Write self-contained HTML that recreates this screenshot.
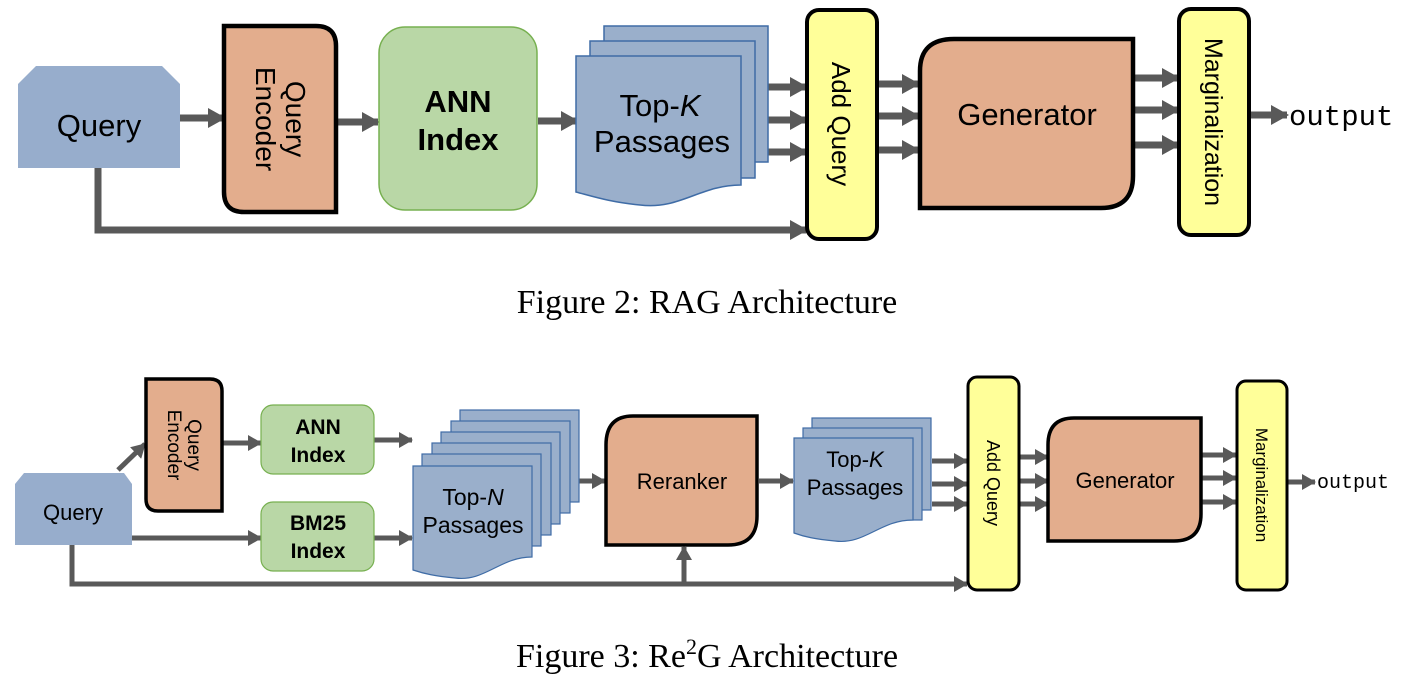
<!DOCTYPE html>
<html><head><meta charset="utf-8"><style>
html,body{margin:0;padding:0;background:#fff;}
svg{display:block;}
text{font-family:"Liberation Sans",Arial,sans-serif;fill:#000;}
.mono{font-family:"Liberation Mono","DejaVu Sans Mono",monospace;}
.serif{font-family:"Liberation Serif","Times New Roman",serif;}
</style></head><body>
<svg width="1416" height="694" viewBox="0 0 1416 694" xmlns="http://www.w3.org/2000/svg">
<defs>
<marker id="ah" markerUnits="userSpaceOnUse" markerWidth="18" markerHeight="20" refX="16" refY="10" orient="auto">
<path d="M0,0 L18,10 L0,20 z" fill="#595959"/></marker>
<marker id="as" markerUnits="userSpaceOnUse" markerWidth="14" markerHeight="16" refX="13" refY="8" orient="auto">
<path d="M0,0 L14,8 L0,16 z" fill="#595959"/></marker>
</defs>
<g stroke="#595959" fill="none">
<g stroke-width="7" marker-end="url(#ah)">
<line x1="180" y1="118" x2="224" y2="118"/>
<line x1="337" y1="122" x2="378" y2="122"/>
<line x1="538" y1="121" x2="577" y2="121"/>
<line x1="767" y1="87" x2="806" y2="87"/>
<line x1="767" y1="120" x2="806" y2="120"/>
<line x1="767" y1="152" x2="806" y2="152"/>
<line x1="878" y1="84" x2="918" y2="84"/>
<line x1="878" y1="116" x2="918" y2="116"/>
<line x1="878" y1="150" x2="918" y2="150"/>
<line x1="1134" y1="78" x2="1178" y2="78"/>
<line x1="1134" y1="110" x2="1178" y2="110"/>
<line x1="1134" y1="145" x2="1178" y2="145"/>
<line x1="1250" y1="115" x2="1287" y2="115"/>
<polyline points="98,168 98,230 806,230"/>
</g>
<g stroke-width="5" marker-end="url(#as)">
<line x1="118" y1="470" x2="145" y2="444"/>
<line x1="222" y1="443" x2="261" y2="443"/>
<line x1="374" y1="440" x2="412" y2="440"/>
<line x1="132" y1="538" x2="261" y2="538"/>
<line x1="374" y1="538" x2="412" y2="538"/>
<line x1="571" y1="481" x2="605" y2="481"/>
<line x1="759" y1="481" x2="793" y2="481"/>
<line x1="932" y1="461" x2="967" y2="461"/>
<line x1="932" y1="484" x2="967" y2="484"/>
<line x1="932" y1="504" x2="967" y2="504"/>
<line x1="1020" y1="457" x2="1048" y2="457"/>
<line x1="1020" y1="481" x2="1048" y2="481"/>
<line x1="1020" y1="504" x2="1048" y2="504"/>
<line x1="1202" y1="455" x2="1236" y2="455"/>
<line x1="1202" y1="478" x2="1236" y2="478"/>
<line x1="1202" y1="502" x2="1236" y2="502"/>
<line x1="1288" y1="482" x2="1315" y2="482"/>
<polyline points="72,545 72,584 967,584"/>
<line x1="684" y1="584" x2="684" y2="547"/>
</g>
</g>

<polygon points="36,66 162,66 180,84 180,168 18,168 18,84" fill="#97adcc"/>
<text x="99" y="136" font-size="31" text-anchor="middle">Query</text>

<path d="M224,26 H316 Q336,26 336,46 V212 H244 Q224,212 224,192 Z" fill="#e3ad8d" stroke="#000" stroke-width="4.5"/>
<g transform="translate(280,119) rotate(90)"><text x="0" y="-6" font-size="28" text-anchor="middle">Query</text><text x="0" y="24" font-size="28" text-anchor="middle">Encoder</text></g>

<rect x="379" y="27" width="158" height="183" rx="26" fill="#b9d7a6" stroke="#77b050" stroke-width="1.5"/>
<text x="458" y="112" font-size="31" font-weight="bold" text-anchor="middle">ANN</text>
<text x="458" y="150" font-size="31" font-weight="bold" text-anchor="middle">Index</text>

<g fill="#9aafcb" stroke="#3f6ca6" stroke-width="1.5">
<path d="M604,26 H768 V162 H604 Z"/>
<path d="M590,41 H755 V178 H590 Z"/>
<path d="M576,56 H741 V185 C700,185 680,210 640,205 C610,202 595,197 576,192 Z"/>
</g>
<text x="660" y="116" font-size="31" text-anchor="middle">Top-<tspan font-style="italic">K</tspan></text>
<text x="662" y="152" font-size="31" text-anchor="middle">Passages</text>

<rect x="807" y="10" width="70" height="229" rx="12" fill="#ffff99" stroke="#000" stroke-width="4"/>
<text transform="translate(832,124) rotate(90)" font-size="26" text-anchor="middle">Add Query</text>

<path d="M954,39 H1133 V176 Q1133,208 1101,208 H920 V71 Q920,39 954,39 Z" fill="#e3ad8d" stroke="#000" stroke-width="4.5"/>
<text x="1027" y="125" font-size="31" text-anchor="middle">Generator</text>

<rect x="1179" y="9" width="70" height="226" rx="12" fill="#ffff99" stroke="#000" stroke-width="4"/>
<text transform="translate(1205,122) rotate(90)" font-size="25" text-anchor="middle">Marginalization</text>
<text x="1289" y="125" font-size="29" class="mono">output</text>

<text x="707" y="313" font-size="34" class="serif" text-anchor="middle">Figure 2: RAG Architecture</text>

<polygon points="24,473 124,473 132,484 132,545 15,545 15,484" fill="#97adcc"/>
<text x="73" y="520" font-size="22" text-anchor="middle">Query</text>

<path d="M146,379 H210 Q222,379 222,391 V511 H158 Q146,511 146,499 Z" fill="#e3ad8d" stroke="#000" stroke-width="3.5"/>
<g transform="translate(184,445) rotate(90)"><text x="0" y="-4" font-size="19" text-anchor="middle">Query</text><text x="0" y="16" font-size="19" text-anchor="middle">Encoder</text></g>

<rect x="261" y="405" width="113" height="69" rx="12" fill="#b9d7a6" stroke="#77b050" stroke-width="1.2"/>
<text x="318" y="434" font-size="21" font-weight="bold" text-anchor="middle">ANN</text>
<text x="318" y="462" font-size="21" font-weight="bold" text-anchor="middle">Index</text>
<rect x="261" y="502" width="113" height="69" rx="12" fill="#b9d7a6" stroke="#77b050" stroke-width="1.2"/>
<text x="318" y="530" font-size="21" font-weight="bold" text-anchor="middle">BM25</text>
<text x="318" y="558" font-size="21" font-weight="bold" text-anchor="middle">Index</text>

<g fill="#9aafcb" stroke="#3f6ca6" stroke-width="1.2">
<rect x="460" y="410" width="119" height="92"/>
<rect x="451" y="421" width="119" height="92"/>
<rect x="441" y="432" width="119" height="92"/>
<rect x="432" y="443" width="119" height="92"/>
<rect x="422" y="454" width="119" height="92"/>
<path d="M413,466 H532 V557 C500,557 485,582 455,578 C435,576 425,574 413,570 Z"/>
</g>
<text x="473" y="505" font-size="23" text-anchor="middle">Top-<tspan font-style="italic">N</tspan></text>
<text x="473" y="533" font-size="23" text-anchor="middle">Passages</text>

<path d="M633,416 H757 V516 Q757,545 728,545 H606 V445 Q606,416 633,416 Z" fill="#e3ad8d" stroke="#000" stroke-width="3.5"/>
<text x="682" y="489" font-size="22" text-anchor="middle">Reranker</text>

<g fill="#9aafcb" stroke="#3f6ca6" stroke-width="1.2">
<rect x="812" y="418" width="119" height="92"/>
<rect x="803" y="428" width="119" height="92"/>
<path d="M794,438 H913 V520 C880,520 865,545 835,541 C815,539 805,537 794,533 Z"/>
</g>
<text x="855" y="467" font-size="22" text-anchor="middle">Top-<tspan font-style="italic">K</tspan></text>
<text x="855" y="495" font-size="22" text-anchor="middle">Passages</text>

<rect x="968" y="377" width="51" height="213" rx="9" fill="#ffff99" stroke="#000" stroke-width="3"/>
<text transform="translate(987,483) rotate(90)" font-size="18" text-anchor="middle">Add Query</text>

<path d="M1074,418 H1201 V514 Q1201,541 1174,541 H1048 V445 Q1048,418 1074,418 Z" fill="#e3ad8d" stroke="#000" stroke-width="3.5"/>
<text x="1125" y="488" font-size="22" text-anchor="middle">Generator</text>

<rect x="1237" y="381" width="50" height="209" rx="9" fill="#ffff99" stroke="#000" stroke-width="3"/>
<text transform="translate(1256,485) rotate(90)" font-size="17" text-anchor="middle">Marginalization</text>
<text x="1317" y="488" font-size="20" class="mono">output</text>

<text x="707" y="667" font-size="34" class="serif" text-anchor="middle">Figure 3: Re<tspan font-size="22" dy="-13">2</tspan><tspan dy="13">G Architecture</tspan></text>
</svg>
</body></html>
